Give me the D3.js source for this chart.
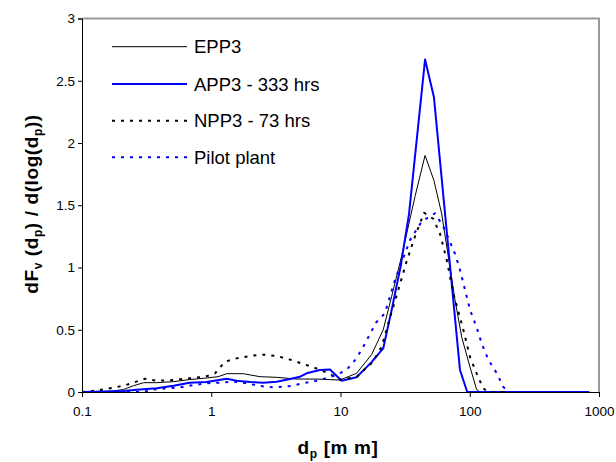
<!DOCTYPE html>
<html>
<head>
<meta charset="utf-8">
<script src="https://cdn.jsdelivr.net/npm/d3@7"></script>
<style>
  body { margin: 0; background: #fff; }
  text { font-family: "Liberation Sans", Arial, sans-serif; }
</style>
</head>
<body>
<div id="chart"></div>
<script>
// values (d_p in mm, log axis)
const epp3D = [0.1, 0.115, 0.165, 0.209, 0.25, 0.3, 0.378, 0.51, 0.68, 0.87, 1.13, 1.32, 1.77, 2.38, 3.2, 4.6, 6.5, 9.9, 13.3, 17.4, 21.4, 24.9, 29.7, 37.7, 45.1, 52.8, 60.7, 68.2, 76.9, 86.7, 100.5, 113, 120, 840];
const epp3V = [0, 0.002, 0.005, 0.02, 0.05, 0.075, 0.075, 0.083, 0.1, 0.11, 0.123, 0.147, 0.147, 0.123, 0.118, 0.104, 0.104, 0.096, 0.15, 0.3, 0.5, 0.77, 1.09, 1.57, 1.9, 1.7, 1.43, 1.09, 0.74, 0.44, 0.2, 0.02, 0, 0];

const app3D = [0.1, 0.209, 0.28, 0.378, 0.51, 0.68, 0.92, 1.32, 1.57, 2.0, 2.53, 3.2, 4.07, 4.87, 5.47, 6.93, 8.3, 10.2, 13.3, 17.4, 21.4, 24.9, 29.2, 33.9, 45.1, 52.8, 84, 95.7, 840];
const app3V = [0, 0.008, 0.02, 0.03, 0.05, 0.075, 0.08, 0.107, 0.09, 0.08, 0.075, 0.083, 0.104, 0.123, 0.15, 0.177, 0.18, 0.09, 0.118, 0.24, 0.35, 0.66, 1.01, 1.43, 2.67, 2.37, 0.177, 0, 0];

const npp3D = [0.1, 0.115, 0.138, 0.165, 0.209, 0.25, 0.307, 0.378, 0.51, 0.68, 0.895, 1.07, 1.28, 1.57, 2.0, 2.53, 3.2, 4.07, 5.16, 6.5, 8.3, 9.9, 13.3, 17.9, 20.8, 24.2, 28.0, 32.5, 37.7, 44.3, 52.3, 58.9, 66.4, 74.7, 89.2, 100.5, 113, 127, 139, 840];
const npp3V = [0, 0.005, 0.016, 0.03, 0.05, 0.075, 0.107, 0.09, 0.096, 0.11, 0.123, 0.15, 0.244, 0.27, 0.29, 0.3, 0.29, 0.26, 0.225, 0.19, 0.145, 0.1, 0.12, 0.244, 0.364, 0.6, 0.82, 1.05, 1.25, 1.44, 1.39, 1.27, 1.06, 0.79, 0.5, 0.28, 0.15, 0.03, 0, 0];

const pilotD = [0.1, 0.3, 0.335, 0.45, 0.57, 0.73, 0.92, 1.17, 1.49, 1.88, 2.38, 3.0, 4.07, 5.16, 6.93, 9.3, 11.2, 13.3, 15.0, 18.9, 22, 26.4, 34.5, 42.5, 53.8, 62.4, 76.9, 84.1, 100.5, 113, 123.6, 139, 162, 182, 193, 200, 840];
const pilotV = [0, 0, 0.016, 0.03, 0.037, 0.056, 0.07, 0.075, 0.083, 0.07, 0.048, 0.037, 0.048, 0.07, 0.096, 0.137, 0.18, 0.27, 0.364, 0.56, 0.63, 0.9, 1.22, 1.37, 1.435, 1.33, 1.11, 0.98, 0.66, 0.52, 0.39, 0.26, 0.15, 0.04, 0.016, 0, 0];

const xTicks = [0.1, 1, 10, 100, 1000];
const yTicks = [0, 0.5, 1, 1.5, 2, 2.5, 3];

const series = [
  { name: "EPP3", d: epp3D, v: epp3V, color: "#000", width: 1, dash: null },
  { name: "APP3 - 333 hrs", d: app3D, v: app3V, color: "#0000ff", width: 2, dash: null },
  { name: "NPP3 - 73 hrs", d: npp3D, v: npp3V, color: "#000", width: 2, dash: "3,6" },
  { name: "Pilot plant", d: pilotD, v: pilotV, color: "#0000ff", width: 2, dash: "3,6" }
];

const W = 616, H = 462;
const plot = { left: 82, right: 599, top: 18.5, bottom: 392 };

const svg = d3.select("#chart")
  .append("svg")
  .attr("width", W)
  .attr("height", H);

const x = d3.scaleLog()
  .domain([0.1, 1000])
  .range([plot.left, plot.right]);

const y = d3.scaleLinear()
  .domain([0, 3])
  .range([plot.bottom, plot.top]);

// plot area border (grey top / right)
svg.append("path")
  .attr("d", `M${plot.left},${plot.top}H${plot.right}V${plot.bottom}`)
  .attr("fill", "none")
  .attr("stroke", "#999")
  .attr("stroke-width", 2);

const line = d3.line()
  .x(p => x(p[0]))
  .y(p => y(p[1]));

series.forEach(s => {
  svg.append("path")
    .datum(s.d.map((d, i) => [d, s.v[i]]))
    .attr("fill", "none")
    .attr("stroke", s.color)
    .attr("stroke-width", s.width)
    .attr("stroke-dasharray", s.dash)
    .attr("stroke-linejoin", "round")
    .attr("d", line);
});

const xAxis = svg.append("g")
  .attr("transform", `translate(0,${plot.bottom})`)
  .call(d3.axisBottom(x).tickValues(xTicks).tickSize(5).tickPadding(9).tickFormat(d3.format("~g")));

const yAxis = svg.append("g")
  .attr("transform", `translate(${plot.left},0)`)
  .call(d3.axisLeft(y).tickValues(yTicks).tickSize(4).tickPadding(3).tickFormat(d3.format("~g")));

[xAxis, yAxis].forEach(g => {
  g.selectAll("text")
    .style("font-family", "'Liberation Sans', Arial, sans-serif")
    .style("font-size", "13.5px")
    .attr("fill", "#000");
  g.select(".domain").attr("stroke", "#000");
  g.selectAll(".tick line").attr("stroke", "#000");
});

// axis titles
const xTitle = svg.append("text")
  .attr("x", 338)
  .attr("y", 454)
  .attr("text-anchor", "middle")
  .style("font-size", "19px")
  .style("font-weight", "bold")
  .style("letter-spacing", "0.6px");
xTitle.append("tspan").text("d");
xTitle.append("tspan").attr("dy", 4).style("font-size", "12px").text("p");
xTitle.append("tspan").attr("dy", -4).text(" [m m]");

const yTitle = svg.append("text")
  .attr("transform", "translate(38,204) rotate(-90)")
  .attr("text-anchor", "middle")
  .style("font-size", "19px")
  .style("font-weight", "bold")
  .style("letter-spacing", "0.6px");
const yParts = [["dF", 0], ["v", 1], [" (d", 0], ["p", 1], [") / d(log(d", 0], ["p", 1], ["))", 0]];
let prevSub = 0;
yParts.forEach(([t, sub]) => {
  yTitle.append("tspan")
    .attr("dy", (sub - prevSub) * 4)
    .style("font-size", sub ? "12px" : "19px")
    .text(t);
  prevSub = sub;
});

// legend
const legend = svg.append("g");
const rowY = [46.7, 84, 120.7, 157.3];
series.forEach((s, i) => {
  legend.append("line")
    .attr("x1", 112)
    .attr("x2", 187)
    .attr("y1", rowY[i])
    .attr("y2", rowY[i])
    .attr("stroke", s.color)
    .attr("stroke-width", s.width)
    .attr("stroke-dasharray", s.dash);
  legend.append("text")
    .attr("x", 194)
    .attr("y", rowY[i] + 6.5)
    .style("font-size", "18.5px")
    .text(s.name);
});
</script>
</body>
</html>
